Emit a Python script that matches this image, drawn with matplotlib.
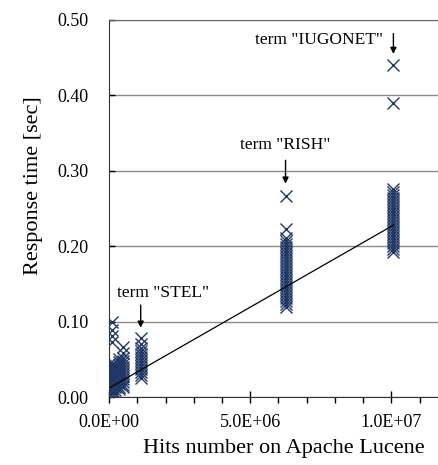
import matplotlib
matplotlib.use("Agg")
import matplotlib.pyplot as plt
from matplotlib.ticker import MultipleLocator, FuncFormatter

plt.rcParams['font.family'] = ['Liberation Serif', 'DejaVu Serif']

# hits per term group and the response times measured for it
hits = [2.0e4, 1.1e5, 2.0e5, 3.6e5, 4.9e5, 1.12e6, 6.25e6, 1.007e7]
times = [
    [0.045, 0.040, 0.036, 0.032, 0.028, 0.024, 0.020, 0.016, 0.012, 0.008, 0.004],
    [0.099, 0.089, 0.081, 0.073, 0.044, 0.040, 0.036, 0.032, 0.028, 0.024, 0.020,
     0.016, 0.012, 0.008, 0.005],
    [0.042, 0.038, 0.034, 0.030, 0.026, 0.022, 0.018, 0.014, 0.010, 0.006],
    [0.050, 0.046, 0.042, 0.038, 0.034, 0.030, 0.026, 0.022, 0.018, 0.014, 0.011],
    [0.066, 0.059, 0.052, 0.048, 0.044, 0.040, 0.036, 0.032, 0.028, 0.024, 0.020,
     0.016, 0.013],
    [0.078, 0.071, 0.065, 0.061, 0.057, 0.053, 0.049, 0.045, 0.041, 0.037, 0.033,
     0.029, 0.025],
    [0.267, 0.223, 0.211, 0.207, 0.203, 0.199, 0.195, 0.191, 0.187, 0.183, 0.179,
     0.175, 0.171, 0.167, 0.163, 0.159, 0.155, 0.151, 0.147, 0.143, 0.139, 0.135,
     0.131, 0.127, 0.123, 0.120],
    [0.440, 0.390, 0.276, 0.272, 0.268, 0.264, 0.260, 0.256, 0.252, 0.248, 0.244,
     0.240, 0.236, 0.232, 0.228, 0.224, 0.220, 0.216, 0.212, 0.208, 0.204, 0.200,
     0.196, 0.193],
]

# linear trend
trend_x = [0.0, 1.007e7]
trend_y = [0.012, 0.228]

# labelled terms: (label, hits, text x, text y, arrow top, arrow tip)
terms = [
    ('term "IUGONET"', 1.007e7, 7.45e6, 0.473, 0.482, 0.455),
    ('term "RISH"', 6.25e6, 6.25e6, 0.334, 0.314, 0.283),
    ('term "STEL"', 1.12e6, 1.92e6, 0.138, 0.122, 0.092),
]

fig = plt.figure(figsize=(4.38, 4.65), dpi=100)
ax = fig.add_axes([0.249, 0.146, 0.751, 0.811])

for h, ts in zip(hits, times):
    ax.plot([h] * len(ts), ts, linestyle="none", marker="x", markersize=8,
            markeredgewidth=1.0, color="#1f3866")

ax.plot(trend_x, trend_y, color="black", linewidth=0.9)

for label, h, tx, ty, a0, a1 in terms:
    ax.annotate("", xy=(h, a1), xytext=(h, a0),
                arrowprops=dict(arrowstyle="-|>", color="black", lw=1.0,
                                mutation_scale=9, shrinkA=0, shrinkB=0))
    ax.text(tx, ty, label, ha="center", va="center", fontsize=12.5)

ax.set_xlim(0, 1.165e7)
ax.set_ylim(0, 0.5)
ax.yaxis.set_major_locator(MultipleLocator(0.1))
ax.yaxis.set_major_formatter(FuncFormatter(lambda v, p: "%.2f" % v))
ax.xaxis.set_major_locator(MultipleLocator(5e6))
ax.xaxis.set_minor_locator(MultipleLocator(1e6))
ax.xaxis.set_major_formatter(FuncFormatter(lambda v, p: "%.1E" % v))
ax.tick_params(axis="x", which="major", direction="inout", length=8, width=1,
               labelsize=13, pad=8)
ax.tick_params(axis="x", which="minor", direction="out", length=4, width=1)
ax.tick_params(axis="y", direction="in", length=4, width=1, labelsize=13, pad=15)
ax.grid(axis="y", color="#8c8c8c", linewidth=1.0)
ax.set_axisbelow(True)
ax.spines["right"].set_visible(False)
ax.spines["top"].set_color("#666666")
ax.spines["left"].set_color("#333333")
ax.spines["bottom"].set_color("#333333")
ax.set_xlabel("Hits number on Apache Lucene", fontsize=16, labelpad=6, x=0.53)
ax.set_ylabel("Response time [sec]", fontsize=16, labelpad=10, y=0.562)

fig.savefig("out.png", dpi=100)
